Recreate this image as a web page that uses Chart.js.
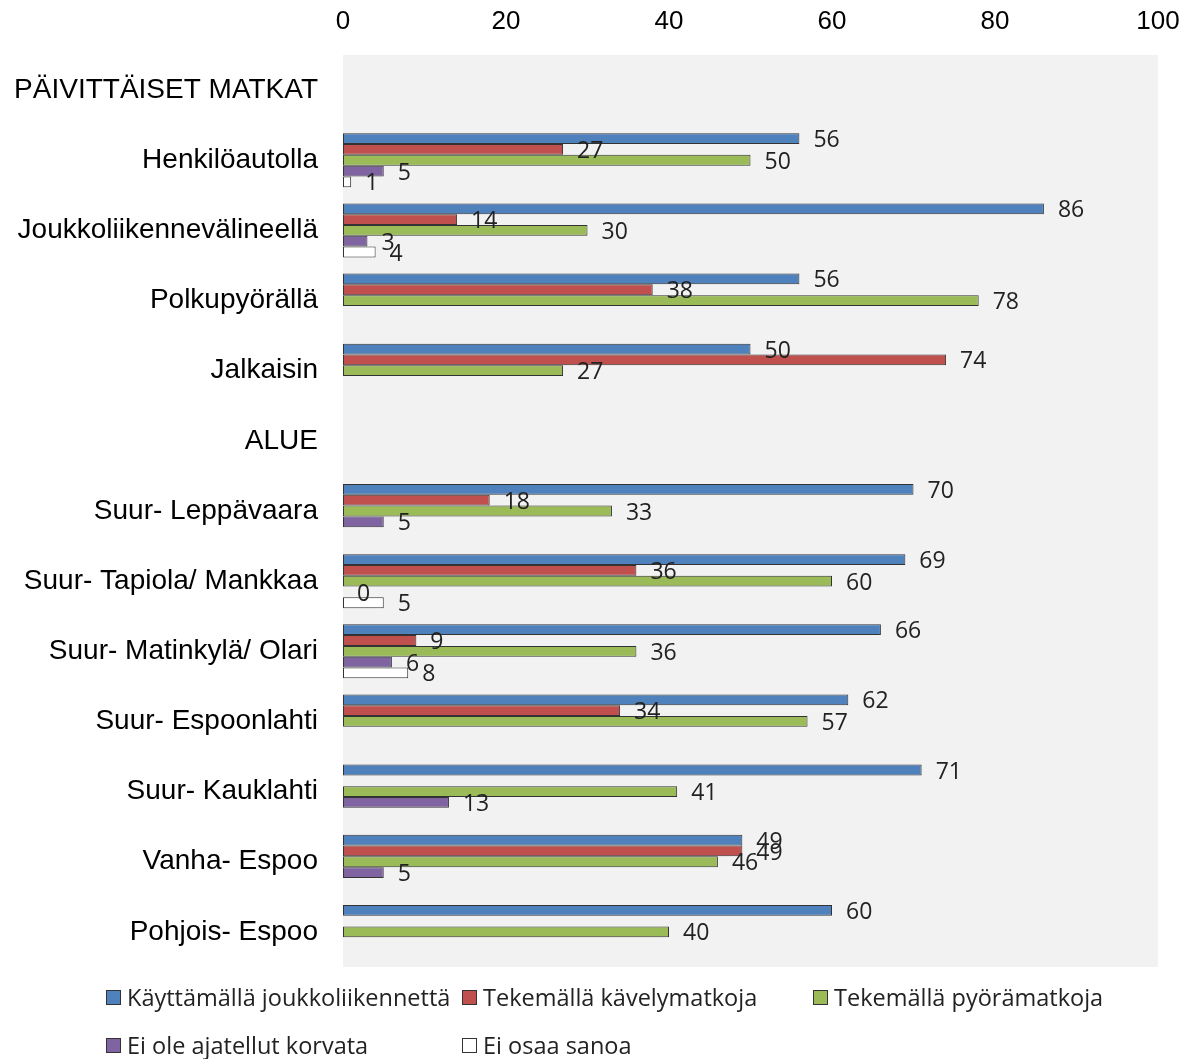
<!DOCTYPE html>
<html>
<head>
<meta charset="utf-8">
<script src="https://cdn.jsdelivr.net/npm/chart.js@4.4.1/dist/chart.umd.min.js"></script>
<style>
    html, body { margin: 0; padding: 0; background: #fff; }
    #wrap { position: relative; width: 1195px; height: 1059px; }
    #legend { position: absolute; left: 0; top: 0; width: 1195px; height: 1059px; pointer-events: none;
              font-family: "Open Sans", sans-serif; font-size: 23.5px; color: #222; }
    .item { position: absolute; display: flex; align-items: center; white-space: nowrap; }
    .box { width: 13px; height: 13px; border: 1px solid #333; margin-right: 6px; }
</style>
</head>
<body>
<div id="wrap">
    <canvas id="surveyChart" width="1195" height="1059"></canvas>
    <div id="legend"></div>
</div>
<script>
// categories (section headers have no values)
const categories = [
    'PÄIVITTÄISET MATKAT',
    'Henkilöautolla',
    'Joukkoliikennevälineellä',
    'Polkupyörällä',
    'Jalkaisin',
    'ALUE',
    'Suur- Leppävaara',
    'Suur- Tapiola/ Mankkaa',
    'Suur- Matinkylä/ Olari',
    'Suur- Espoonlahti',
    'Suur- Kauklahti',
    'Vanha- Espoo',
    'Pohjois- Espoo'
];

const seriesNames = [
    'Käyttämällä joukkoliikennettä',
    'Tekemällä kävelymatkoja',
    'Tekemällä pyörämatkoja',
    'Ei ole ajatellut korvata',
    'Ei osaa sanoa'
];

const joukkoliikenne = [null, 56, 86, 56, 50, null, 70, 69, 66, 62, 71, 49, 60];
const kavely = [null, 27, 14, 38, 74, null, 18, 36, 9, 34, null, 49, null];
const pyora = [null, 50, 30, 78, 27, null, 33, 60, 36, 57, 41, 46, 40];
const eiKorvata = [null, 5, 3, null, null, null, 5, 0, 6, null, 13, 5, null];
const eiOsaa = [null, 1, 4, null, null, null, null, 5, 8, null, null, null, null];

const xTicks = [0, 20, 40, 60, 80, 100];

const colors = ['#4F81BD', '#C0504D', '#9BBB59', '#8064A2', '#FFFFFF'];
const values = [joukkoliikenne, kavely, pyora, eiKorvata, eiOsaa];

// gray plot background
const plotBackground = {
    id: 'plotBackground',
    beforeDraw(chart) {
        const { ctx, chartArea } = chart;
        ctx.save();
        ctx.fillStyle = '#F2F2F2';
        ctx.fillRect(chartArea.left, chartArea.top, chartArea.right - chartArea.left, chartArea.bottom - chartArea.top);
        ctx.restore();
    }
};

// value labels at the end of each bar
const barLabels = {
    id: 'barLabels',
    afterDatasetsDraw(chart) {
        const ctx = chart.ctx;
        ctx.save();
        ctx.font = '23px "Open Sans", sans-serif';
        ctx.fillStyle = '#222';
        ctx.textAlign = 'left';
        ctx.textBaseline = 'middle';
        chart.data.datasets.forEach((ds, i) => {
            const meta = chart.getDatasetMeta(i);
            meta.data.forEach((bar, j) => {
                const v = ds.data[j];
                if (v === null || v === undefined) return;
                ctx.fillText(String(Math.round(v)), bar.x + 14, bar.y + 2);
            });
        });
        ctx.restore();
    }
};

const ctx = document.getElementById('surveyChart').getContext('2d');

const surveyChart = new Chart(ctx, {
    type: 'bar',
    data: {
        labels: categories,
        datasets: seriesNames.map((name, i) => ({
            label: name,
            data: values[i],
            backgroundColor: colors[i],
            borderColor: '#333333',
            borderWidth: 1,
            borderSkipped: false,
            categoryPercentage: 0.77,
            barPercentage: 1.0
        }))
    },
    options: {
        indexAxis: 'y',
        responsive: false,
        animation: false,
        layout: {
            padding: { left: 0, right: 37, top: 0, bottom: 92 }
        },
        plugins: {
            legend: { display: false },
            tooltip: { enabled: false }
        },
        scales: {
            x: {
                position: 'top',
                min: 0,
                max: 100,
                afterBuildTicks: (scale) => {
                    scale.ticks = xTicks.map(v => ({ value: v }));
                },
                afterFit: (scale) => {
                    scale.height = 55;
                    scale.paddingLeft = 0;
                    scale.paddingRight = 0;
                },
                grid: { display: false, drawTicks: false },
                border: { display: false },
                ticks: {
                    color: '#000',
                    padding: 18,
                    font: { family: '"Liberation Sans", Arial, sans-serif', size: 26 }
                }
            },
            y: {
                afterFit: (scale) => { scale.width = 343; },
                grid: { display: false, drawTicks: false },
                border: { display: false },
                ticks: {
                    color: '#000',
                    padding: 25,
                    autoSkip: false,
                    font: { family: '"Liberation Sans", Arial, sans-serif', size: 28 }
                }
            }
        }
    },
    plugins: [plotBackground, barLabels]
});

// legend laid out in fixed columns like the original
const legendPos = [
    [106, 997], [462, 997], [813, 997],
    [106, 1045], [462, 1045]
];
const legendEl = document.getElementById('legend');
seriesNames.forEach((name, i) => {
    const item = document.createElement('div');
    item.className = 'item';
    item.style.left = legendPos[i][0] + 'px';
    item.style.top = (legendPos[i][1] - 15) + 'px';
    item.style.height = '30px';
    const box = document.createElement('span');
    box.className = 'box';
    box.style.background = colors[i];
    const txt = document.createElement('span');
    txt.textContent = name;
    item.appendChild(box);
    item.appendChild(txt);
    legendEl.appendChild(item);
});
</script>
</body>
</html>
